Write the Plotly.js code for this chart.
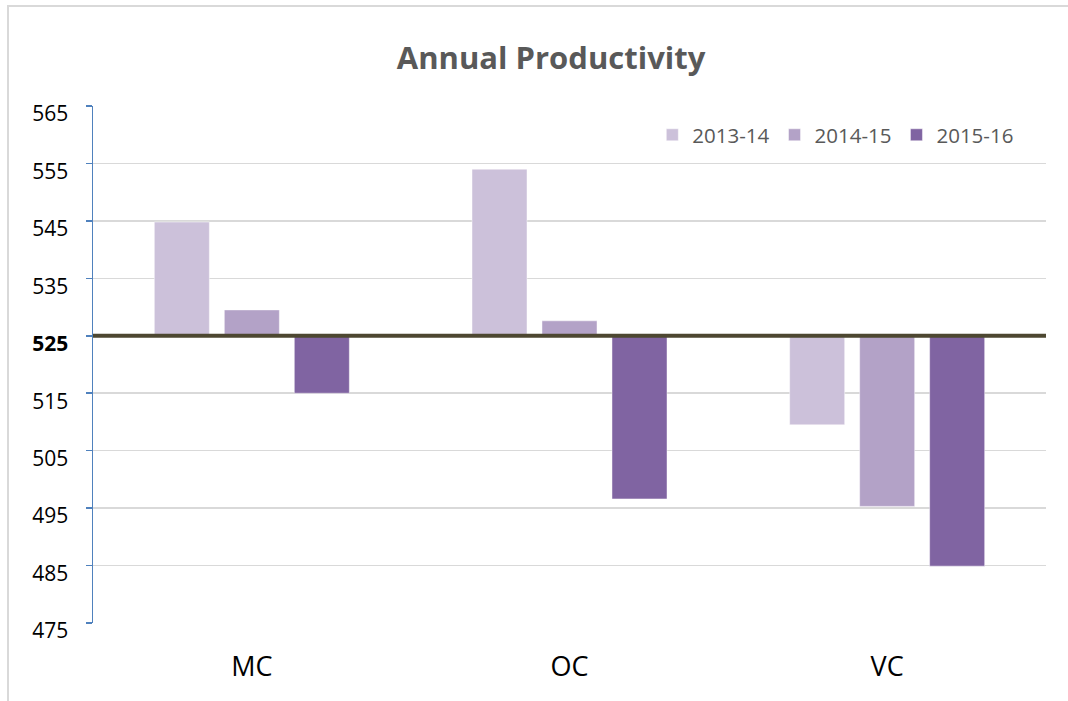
<!DOCTYPE html>
<html>
<head>
<meta charset="utf-8">
<script src="https://cdn.plot.ly/plotly-3.0.1.min.js"></script>
<style>
  html, body { margin: 0; padding: 0; background: #fff; }
  #wrap { position: relative; width: 1068px; height: 701px; overflow: hidden; }
  #chart { position: absolute; left: 0; top: 0; width: 1068px; height: 701px; }
  #frame { position: absolute; left: 7px; top: 5px; width: 1100px; height: 720px;
           border-left: 2px solid #d9d9d9; border-top: 2px solid #d9d9d9; pointer-events: none; }
</style>
</head>
<body>
<div id="wrap">
  <div id="chart"></div>
  <div id="frame"></div>
</div>
<script>
const categories = ["MC", "OC", "VC"];
const seriesNames = ["2013-14", "2014-15", "2015-16"];
const values2013_14 = [544.8, 554.0, 509.5];
const values2014_15 = [529.5, 527.6, 495.3];
const values2015_16 = [515.0, 496.6, 484.9];
const baseline = 525;
const tickValues = [475, 485, 495, 505, 515, 525, 535, 545, 555, 565];
const tickLabels = ["475", "485", "495", "505", "515", "<b>525</b>", "535", "545", "555", "565"];
const colors = ["#ccc1da", "#b3a2c7", "#8064a2"];

const allSeries = [values2013_14, values2014_15, values2015_16];
const FONT = "Open Sans, sans-serif";

const traces = allSeries.map((vals, i) => ({
  type: "bar",
  name: seriesNames[i],
  x: categories,
  y: vals.map(v => v - baseline),
  base: baseline,
  marker: { color: colors[i], line: { color: "rgba(255,255,255,0.45)", width: 1 } },
  hoverinfo: "skip"
}));

const layout = {
  width: 1068,
  height: 701,
  margin: { l: 93, r: 22, t: 106, b: 78 },
  paper_bgcolor: "#ffffff",
  plot_bgcolor: "#ffffff",
  barmode: "group",
  bargap: 0.339,
  bargroupgap: 0.214,
  showlegend: true,
  title: {
    text: "<b>Annual Productivity</b>",
    font: { family: FONT, size: 31, color: "#595959" },
    x: 0.516, xanchor: "center", xref: "container",
    y: 0.917, yanchor: "middle", yref: "container"
  },
  legend: {
    orientation: "h",
    x: 0.972, xanchor: "right",
    y: 0.944, yanchor: "middle",
    font: { family: FONT, size: 20.5, color: "#595959" },
    bgcolor: "rgba(0,0,0,0)",
    itemclick: false, itemdoubleclick: false,
    traceorder: "normal",
    itemwidth: 30
  },
  xaxis: {
    type: "category",
    showgrid: false,
    zeroline: false,
    showline: false,
    ticks: "",
    ticklabelstandoff: 25,
    tickfont: { family: FONT, size: 27, color: "#000000" }
  },
  yaxis: {
    range: [475, 565],
    tickmode: "array",
    tickvals: tickValues,
    ticktext: tickLabels,
    showgrid: true,
    gridcolor: "#d9d9d9",
    gridwidth: 1.5,
    zeroline: false,
    showline: true,
    linecolor: "#4f81bd",
    linewidth: 1.5,
    ticks: "outside",
    ticklen: 6,
    tickwidth: 1.5,
    tickcolor: "#4f81bd",
    ticklabelstandoff: 13,
    ticklabelshift: 8,
    tickfont: { family: FONT, size: 21, color: "#000000" }
  },
  shapes: [{
    type: "line", xref: "paper", yref: "y",
    x0: 0, x1: 1, y0: baseline, y1: baseline,
    line: { color: "#4d4731", width: 4 }
  }]
};

Plotly.newPlot("chart", traces, layout, { displayModeBar: false, staticPlot: true });
</script>
</body>
</html>
